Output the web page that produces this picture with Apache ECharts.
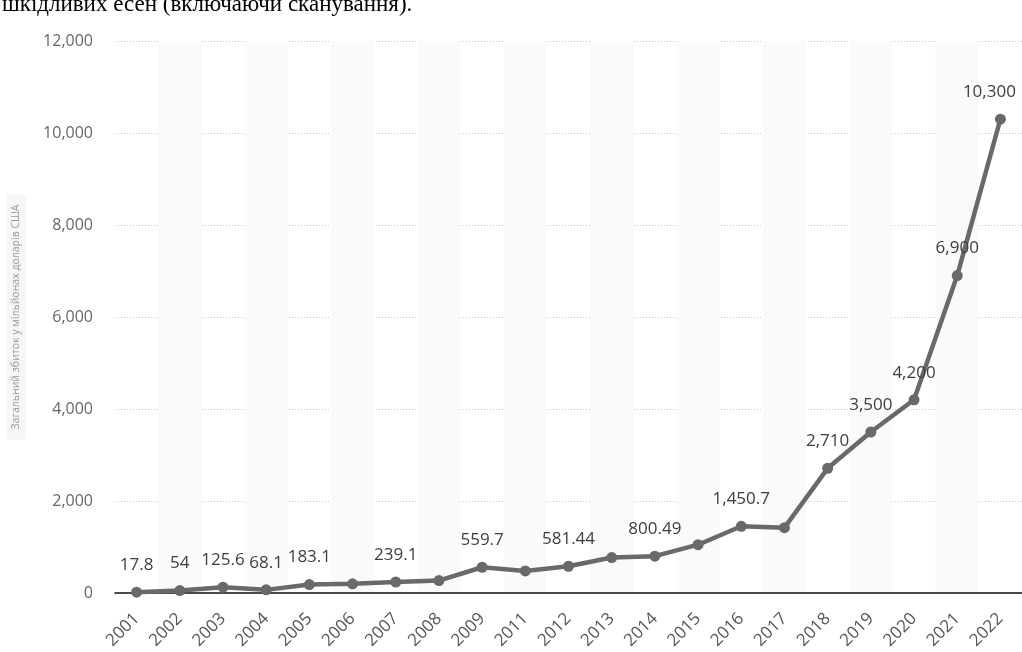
<!DOCTYPE html>
<html>
<head>
<meta charset="utf-8">
<title>Загальний збиток</title>
<script src="https://cdn.jsdelivr.net/npm/echarts@6/dist/echarts.min.js"></script>
<style>
  html, body { margin: 0; padding: 0; background: #ffffff; }
  #chart { width: 1022px; height: 652px; }
</style>
</head>
<body>
<div id="chart"></div>
<script>
// Years on the category axis (2010 is absent from the series)
const years = ['2001','2002','2003','2004','2005','2006','2007','2008','2009','2011',
               '2012','2013','2014','2015','2016','2017','2018','2019','2020','2021','2022'];

// Total losses, millions of US dollars
const losses = [17.8, 54, 125.6, 68.1, 183.1, 200, 239.1, 270, 559.7, 480,
                581.44, 770, 800.49, 1050, 1450.7, 1420, 2710, 3500, 4200, 6900, 10300];

// Which points carry a value label
const labelled = [true, true, true, true, true, false, true, false, true, false,
                  true, false, true, false, true, false, true, true, true, true, true];

// Value-axis ticks
const yTicks = [0, 2000, 4000, 6000, 8000, 10000, 12000];

const headText = 'шкідливих есен (включаючи сканування).';
const axisTitle = 'Загальний збиток у мільйонах доларів США';

const fmt = v => v.toLocaleString('en-US', { maximumFractionDigits: 2 });

// The last label is nudged inward so it stays inside the chart's right edge
const seriesData = losses.map((v, i) => ({
  value: v,
  label: i === losses.length - 1
    ? { show: labelled[i], offset: [-11, 0] }
    : { show: labelled[i] }
}));

const chart = echarts.init(document.getElementById('chart'), null, { renderer: 'canvas' });

chart.setOption({
  animation: false,
  backgroundColor: '#ffffff',
  textStyle: { fontFamily: 'Open Sans' },
  graphic: [{
    type: 'text',
    left: 2,
    top: -7,
    style: {
      text: headText,
      font: '23px "Liberation Serif"',
      fill: '#000000'
    }
  }],
  grid: { left: 115, right: 0, top: 41, bottom: 59, containLabel: false, outerBoundsMode: 'none' },
  xAxis: {
    type: 'category',
    data: years,
    boundaryGap: true,
    axisLine: { show: true, lineStyle: { color: '#111111', width: 1.5 } },
    axisTick: { show: false },
    axisLabel: { rotate: 45, color: '#555555', fontSize: 17, margin: 23, interval: 0, fontFamily: 'Open Sans' },
    splitLine: { show: false },
    splitArea: { show: true, interval: 0, areaStyle: { color: ['rgba(255,255,255,0)', '#fafafa'] } }
  },
  yAxis: {
    type: 'value',
    min: yTicks[0],
    max: yTicks[yTicks.length - 1],
    interval: yTicks[1] - yTicks[0],
    name: axisTitle,
    nameLocation: 'middle',
    nameRotate: 90,
    nameGap: 89,
    nameTextStyle: {
      color: '#999999', fontSize: 10.5, fontFamily: 'Open Sans',
      backgroundColor: '#f6f6f6', padding: [4, 10, 4, 10], borderRadius: 3
    },
    axisLine: { show: false },
    axisTick: { show: false },
    axisLabel: { color: '#666666', fontSize: 16, margin: 22, formatter: v => fmt(v), fontFamily: 'Open Sans' },
    splitLine: { show: true, lineStyle: { color: '#c8c8c8', type: [1, 2], width: 1 } }
  },
  series: [{
    type: 'line',
    data: seriesData,
    symbol: 'circle',
    symbolSize: 11,
    z: 5,
    lineStyle: { color: '#696969', width: 4.5 },
    itemStyle: { color: '#696969' },
    label: {
      position: 'top',
      distance: 13,
      color: '#3d3d3d',
      fontSize: 17,
      fontFamily: 'Open Sans',
      formatter: p => fmt(p.value)
    }
  }]
});
</script>
</body>
</html>
